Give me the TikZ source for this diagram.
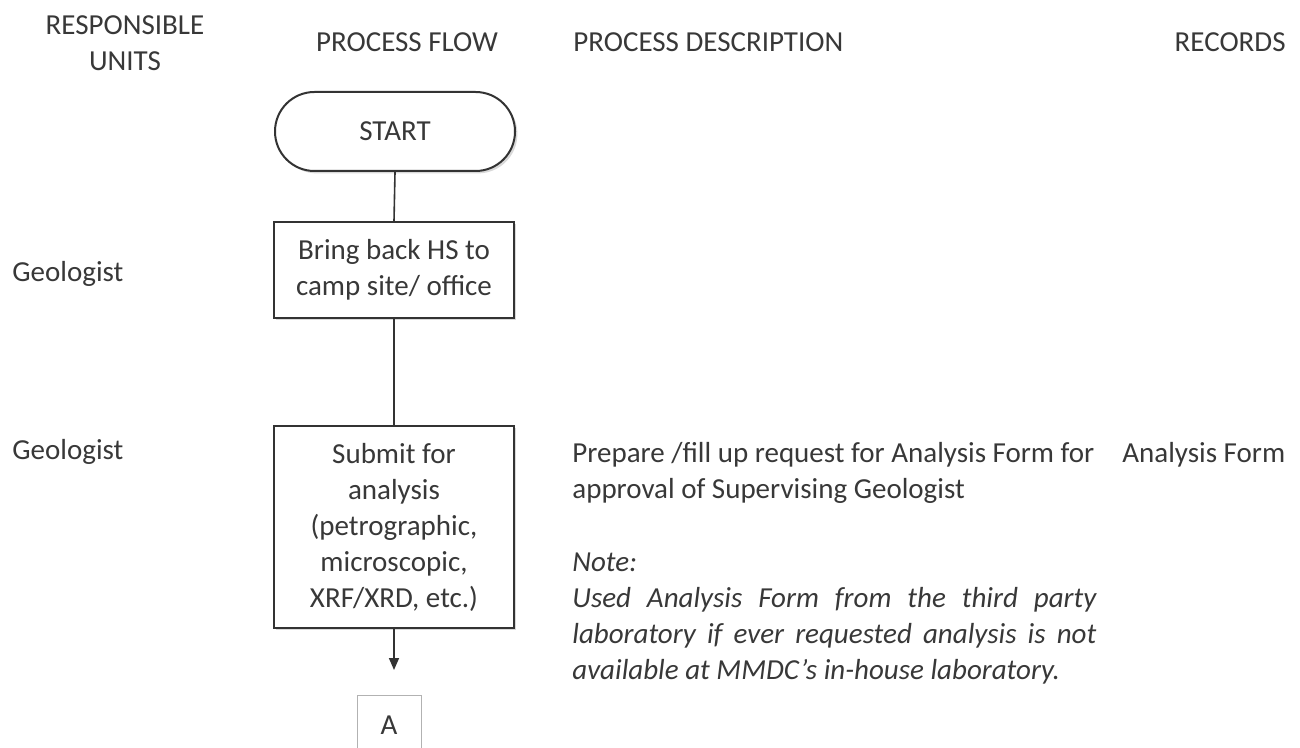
\documentclass[tikz,border=0pt]{standalone}
\usepackage{fontspec}
\setmainfont{Carlito}
\usetikzlibrary{arrows.meta,shadows}
\definecolor{ink}{HTML}{333333}
\definecolor{txt}{HTML}{383838}
\newcommand{\bodyfont}{\fontsize{14.5}{18}\selectfont}
\begin{document}
\begin{tikzpicture}[x=0.5pt,y=-0.5pt,
  every node/.style={font=\bodyfont, text=txt},
  flowbox/.style={draw=ink, line width=1pt, fill=white, minimum width=120pt,
    align=center, inner sep=0pt,
    drop shadow={shadow xshift=1.2pt, shadow yshift=-1.2pt, fill=black, opacity=0.15}},
  plain/.style={inner sep=0pt},
  conn/.style={draw=ink, line width=0.8pt},
  connbox/.style={draw=gray!60, line width=0.5pt, minimum width=32pt, minimum height=30pt, inner sep=0pt}
]
\useasboundingbox (0,0) rectangle (1300,748);
\clip (0,0) rectangle (1300,748);
% headers
\node[plain, anchor=base, align=center] (hru) at (125,71) {RESPONSIBLE\\UNITS};
\node[plain, anchor=base] (hpf) at (407,52) {PROCESS FLOW};
\node[plain, anchor=base west] (hpd) at (573,52) {PROCESS DESCRIPTION};
\node[plain, anchor=base east] (hrec) at (1286,52) {RECORDS};
% flow
\node[flowbox, rounded corners=19.7pt, minimum height=39.5pt] (start) at (395,131.5) {START};
\node[flowbox, minimum height=48pt] (bring) at (394,270) {Bring back HS to\\camp site/ office};
\node[flowbox, minimum height=101pt] (submit) at (394,527) {Submit for\\analysis\\(petrographic,\\microscopic,\\XRF/XRD, etc.)};
\coordinate (tip) at (394,670);
\node[connbox] (conA) at (389,725) {A};
\draw[conn] (start.south) -- (bring.north);
\draw[conn] (bring.south) -- (submit.north);
\draw[conn, -{Triangle[length=6pt,width=5pt]}] (submit.south) -- (tip);
% responsible units
\node[plain, anchor=base west] (geo1) at (12,282) {Geologist};
\node[plain, anchor=base west] (geo2) at (12,459) {Geologist};
% description
\node[plain, anchor=base west, align=left] (desc) at (572,498) {Prepare /fill up request for Analysis Form for\\approval of Supervising Geologist};
\node[plain, anchor=base west, align=left, font={\bodyfont\itshape}] (note) at (572,679) {Note:\\\makebox[262pt][s]{Used Analysis Form from the third party}\\\makebox[262pt][s]{laboratory if ever requested analysis is not}\\available at MMDC’s in-house laboratory.};
\node[plain, anchor=base west] (rec) at (1122,462) {Analysis Form};
\end{tikzpicture}
\end{document}
